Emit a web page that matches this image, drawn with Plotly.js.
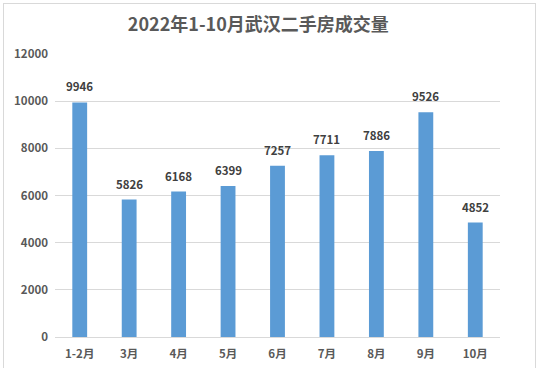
<!DOCTYPE html>
<html>
<head>
<meta charset="utf-8">
<script src="https://cdn.plot.ly/plotly-3.0.1.min.js"></script>
<style>
html,body{margin:0;padding:0;background:#fff;}
#wrap{position:relative;width:545px;height:368px;overflow:hidden;}
#frame{position:absolute;left:3px;top:3px;width:531px;height:372px;border:1px solid #d9d9d9;pointer-events:none;}
#chart{position:absolute;left:0;top:0;width:545px;height:368px;}
</style>
</head>
<body>
<div id="wrap"><div id="chart"></div><div id="frame"></div></div>
<script>
const months = ["1-2月","3月","4月","5月","6月","7月","8月","9月","10月"];
const volumes = [9946,5826,6168,6399,7257,7711,7886,9526,4852];
const yTicks = [0,2000,4000,6000,8000,10000,12000];
const titleText = "2022年1-10月武汉二手房成交量";

const FONT = '"Noto Sans CJK SC","Microsoft YaHei",sans-serif';

const annotations = months.map((m,i)=>({
  x: m, y: volumes[i], xref:'x', yref:'y',
  text: '<b>'+volumes[i]+'</b>', showarrow:false,
  yanchor:'bottom', yshift:6,
  font:{family:FONT, size:11.5, color:'#404040'}
}));

Plotly.newPlot('chart',[{
  type:'bar', x:months, y:volumes,
  marker:{color:'#5B9BD5', line:{width:0}},
  hoverinfo:'none'
}],{
  width:545, height:368,
  margin:{l:55, r:45, t:54, b:31},
  paper_bgcolor:'#fff', plot_bgcolor:'#fff',
  bargap:0.7,
  title:{text:'<b>'+titleText+'</b>', x:0.474, xanchor:'center', y:0.932, yanchor:'middle',
    font:{family:FONT, size:18, color:'#595959'}},
  xaxis:{type:'category', showgrid:false, zeroline:false, showline:true, linecolor:'#d9d9d9', linewidth:1,
    ticks:'', tickfont:{family:FONT, size:11.5, color:'#595959', weight:'bold'}, ticklabelstandoff:6},
  yaxis:{range:[0,12000], tickvals:yTicks, ticktext:yTicks.map(String), showgrid:true, gridcolor:'#d9d9d9', gridwidth:1,
    zeroline:false, showline:false, ticks:'', tickfont:{family:FONT, size:11.5, color:'#595959', weight:'bold'}, ticklabelstandoff:6},
  annotations: annotations,
  showlegend:false,
  font:{family:FONT}
},{displayModeBar:false, staticPlot:true});
</script>
</body>
</html>
